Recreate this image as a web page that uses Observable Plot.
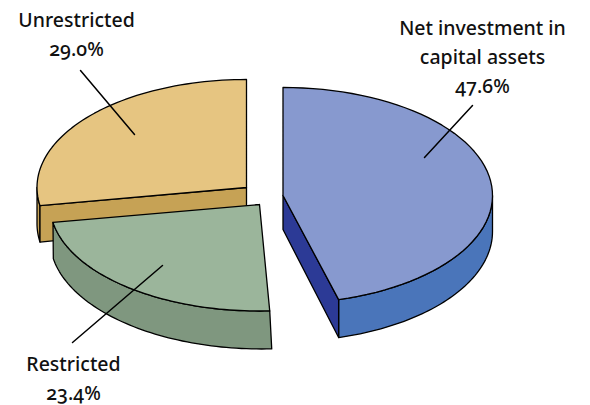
<!DOCTYPE html>
<html><head><meta charset="utf-8">
<script src="https://cdn.jsdelivr.net/npm/d3@7"></script>
<script src="https://cdn.jsdelivr.net/npm/@observablehq/plot@0.6"></script>
<style>html,body{margin:0;padding:0;background:#fff}svg{display:block}
text{font-variant-numeric:oldstyle-nums;font-feature-settings:"onum"}</style>
</head><body><div id="chart"></div>
<script>
// Data
const categories = ["Net investment in capital assets", "Restricted", "Unrestricted"];
const sharePct = [47.6, 23.4, 29.0];
// Slice edges as drawn in the picture (degrees clockwise from the top)
const drawnStartDeg = [0, 177.2, 260.3];
const drawnEndDeg = [164.6, 260.3, 360];

// Projection of the tilted pie
const rx = 209.5;
const layout = [
  {cx: 282.5, cy: 195, ry: 108, top: "#8799cf", side: "#4a75ba", cut: "#2c3a96", skew: 0,
   lines: ["Net investment in", "capital assets"], tx: 482, ty: 34, leader: [[472,105],[424,157]]},
  {cx: 259, cy: 204, ry: 106.5, top: "#9bb59b", side: "#7f977f", cut: "#7f977f", skew: 2,
   lines: ["Restricted"], tx: 73, ty: 370, leader: [[162,265],[72,342]]},
  {cx: 246, cy: 187, ry: 108, top: "#e6c581", side: "#c6a255", cut: "#c6a255", skew: 0,
   lines: ["Unrestricted"], tx: 76, ty: 26, leader: [[80,70],[134,134]]}
];
const lineStep = 29;
const rad = d => d * Math.PI / 180;
const depth = v => 36 + 2 * v;

function rimPoint(s, deg) {
  const u = Math.sin(rad(deg)), v = -Math.cos(rad(deg));
  return {x: s.cx + rx * u, y: s.cy + s.ry * v, v};
}
const lower = (s, p) => ({x: p.x + s.skew * Math.max(p.v, 0), y: p.y + depth(p.v)});
function arc(s, a, b) {
  return d3.range(0, 61).map(i => rimPoint(s, a + (b - a) * i / 60));
}
const poly = (pts, fill) => Plot.line([...pts, pts[0]], {
  x: "x", y: "y", fill, stroke: "#000", strokeWidth: 1.3, strokeLinejoin: "round", curve: "linear"
});

const marks = [];
// back to front: unrestricted, restricted, net investment
[2, 1, 0].forEach(i => {
  const s = layout[i], a = drawnStartDeg[i], b = drawnEndDeg[i];
  const apex = {x: s.cx, y: s.cy, v: 0};
  const apexLow = {x: s.cx, y: s.cy + 34};
  // outer wall, the part of the rim facing the viewer
  const f0 = Math.max(a, 90), f1 = Math.min(b, 270);
  if (f1 > f0) {
    const rim = arc(s, f0, f1);
    marks.push(poly([...rim, ...rim.slice().reverse().map(p => lower(s, p))], s.side));
  }
  // cut wall facing the viewer
  if (i === 0) {
    const p = rimPoint(s, b);
    marks.push(poly([apex, p, lower(s, p), apexLow], s.cut));
  }
  if (i === 2) {
    const p = rimPoint(s, a);
    marks.push(poly([apex, p, lower(s, p), apexLow], s.cut));
  }
  // top face
  marks.push(poly([apex, ...arc(s, a, b)], s.top));
});

// leaders
layout.forEach(s => {
  marks.push(Plot.line(s.leader.map(([x, y]) => ({x, y})), {x: "x", y: "y", stroke: "#000", strokeWidth: 1.5}));
});

// labels
const labelRows = layout.flatMap((s, i) => {
  const rows = [...s.lines, `${sharePct[i].toFixed(1)}%`];
  return rows.map((text, k) => ({text, x: s.tx, y: s.ty + k * lineStep}));
});
marks.push(Plot.text(labelRows, {
  x: "x", y: "y", text: "text", textAnchor: "middle", lineAnchor: "bottom",
  fontSize: 19.5, fontWeight: 500, fill: "#111", fontFamily: "'Noto Sans', sans-serif"
}));

const chart = Plot.plot({
  width: 590, height: 405, margin: 0, style: {background: "#fff", overflow: "visible"},
  x: {domain: [0, 590], range: [0, 590], axis: null},
  y: {domain: [0, 405], range: [0, 405], axis: null},
  marks
});
document.getElementById("chart").append(chart);
</script></body></html>
